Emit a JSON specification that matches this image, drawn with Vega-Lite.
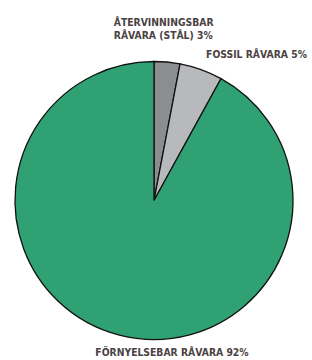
{
  "$schema": "https://vega.github.io/schema/vega-lite/v6.json",
  "width": 308,
  "height": 319,
  "autosize": {"type": "none"},
  "padding": {"left": 0, "top": 41, "right": 4, "bottom": 0},
  "background": "white",
  "view": {"stroke": null},
  "data": {
    "values": [
      {"kategori": "Återvinningsbar råvara (stål)", "andel": 3, "ordning": 1, "etikett": "ÅTERVINNINGSBAR\nRÅVARA (STÅL) 3%"},
      {"kategori": "Fossil råvara", "andel": 5, "ordning": 2, "etikett": "FOSSIL RÅVARA 5%"},
      {"kategori": "Förnyelsebar råvara", "andel": 92, "ordning": 3, "etikett": "FÖRNYELSEBAR RÅVARA 92%"}
    ]
  },
  "encoding": {
    "theta": {"field": "andel", "type": "quantitative", "stack": true},
    "order": {"field": "ordning", "type": "quantitative", "sort": "ascending"}
  },
  "layer": [
    {
      "mark": {"type": "arc", "outerRadius": 139, "stroke": "#111111", "strokeWidth": 1.3},
      "encoding": {
        "color": {
          "field": "kategori",
          "type": "nominal",
          "scale": {
            "domain": ["Återvinningsbar råvara (stål)", "Fossil råvara", "Förnyelsebar råvara"],
            "range": ["#8b8d90", "#b8b9bc", "#2fa172"]
          },
          "legend": null
        }
      }
    },
    {
      "mark": {"type": "text", "radius": 178, "align": "left", "baseline": "middle", "dx": -57, "lineBreak": "\n", "lineHeight": 13, "font": "DejaVu Sans Condensed", "fontWeight": "bold", "fontSize": 10.3, "fill": "#4a4242"},
      "encoding": {
        "text": {"condition": {"test": "datum.ordning === 1", "field": "etikett", "type": "nominal"}, "value": ""}
      }
    },
    {
      "mark": {"type": "text", "radius": 155, "align": "center", "baseline": "middle", "dx": 50, "font": "DejaVu Sans Condensed", "fontWeight": "bold", "fontSize": 10.3, "fill": "#4a4242"},
      "encoding": {
        "text": {"condition": {"test": "datum.ordning === 2", "field": "etikett", "type": "nominal"}, "value": ""}
      }
    },
    {
      "mark": {"type": "text", "radius": 157, "align": "center", "baseline": "middle", "dx": 57, "font": "DejaVu Sans Condensed", "fontWeight": "bold", "fontSize": 10.3, "fill": "#4a4242"},
      "encoding": {
        "text": {"condition": {"test": "datum.ordning === 3", "field": "etikett", "type": "nominal"}, "value": ""}
      }
    }
  ]
}
